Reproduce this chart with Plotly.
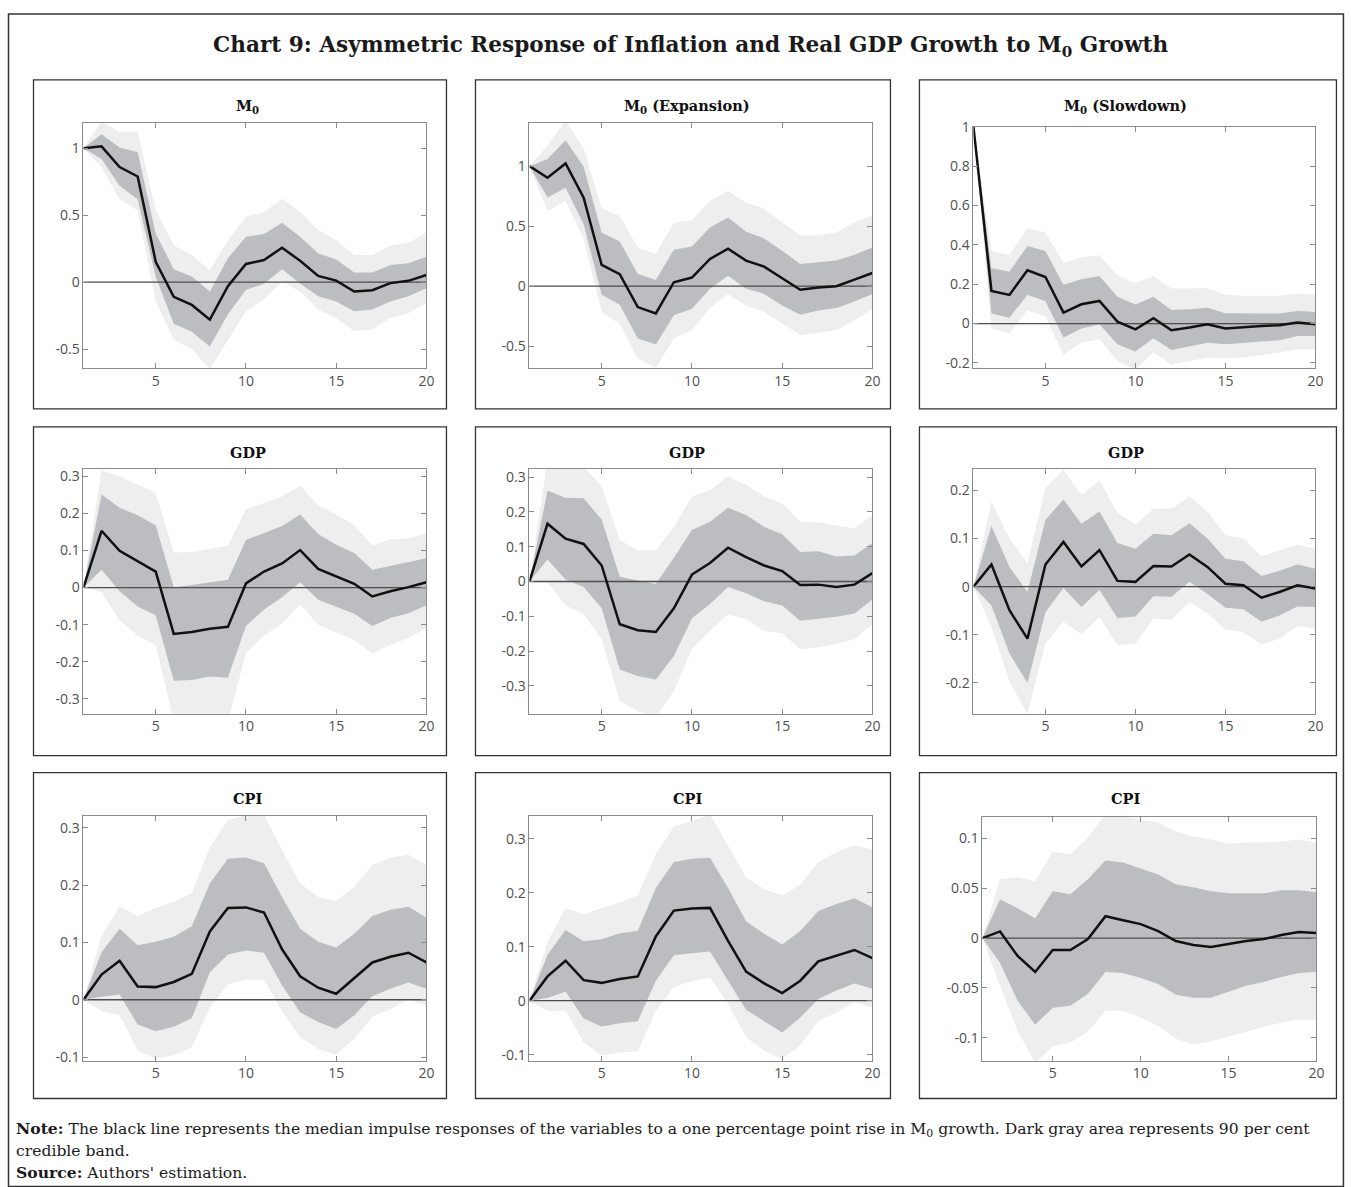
import plotly.graph_objects as go

W, H = 1351, 1187

horizon = list(range(1, 21))

# ---------------- data ----------------
# Panel 1: M0
p1_med = [1.0, 1.015, 0.86, 0.79, 0.153, -0.11, -0.17, -0.28, -0.03, 0.136, 0.166, 0.257, 0.16, 0.047, 0.012, -0.07, -0.06, -0.007, 0.01, 0.054]
p1_dhi = [1.0, 1.106, 1.007, 0.97, 0.364, 0.097, 0.042, -0.07, 0.178, 0.34, 0.36, 0.445, 0.34, 0.215, 0.17, 0.072, 0.072, 0.129, 0.141, 0.19]
p1_dlo = [1.0, 0.92, 0.72, 0.62, 0.04, -0.31, -0.37, -0.48, -0.24, -0.057, -0.012, 0.097, -0.01, -0.106, -0.144, -0.218, -0.205, -0.144, -0.106, -0.045]
p1_lhi = [1.0, 1.20, 1.124, 1.124, 0.537, 0.277, 0.203, 0.09, 0.314, 0.488, 0.525, 0.624, 0.525, 0.389, 0.314, 0.203, 0.203, 0.27, 0.297, 0.371]
p1_llo = [1.0, 0.86, 0.62, 0.537, -0.144, -0.43, -0.50, -0.65, -0.43, -0.218, -0.13, 0.005, -0.07, -0.205, -0.267, -0.366, -0.354, -0.267, -0.23, -0.156]

# Panel 2: M0 (Expansion)
p2_med = [1.0, 0.903, 1.022, 0.738, 0.177, 0.10, -0.174, -0.227, 0.033, 0.072, 0.227, 0.312, 0.213, 0.163, 0.066, -0.03, -0.011, 0.0, 0.055, 0.11]
p2_dhi = [1.0, 1.06, 1.215, 0.994, 0.447, 0.373, 0.102, 0.052, 0.304, 0.331, 0.489, 0.572, 0.453, 0.398, 0.296, 0.185, 0.199, 0.213, 0.262, 0.323]
p2_dlo = [1.0, 0.738, 0.82, 0.517, -0.072, -0.155, -0.436, -0.486, -0.243, -0.188, -0.022, 0.088, -0.022, -0.064, -0.16, -0.238, -0.202, -0.182, -0.127, -0.064]
p2_lhi = [1.0, 1.171, 1.38, 1.152, 0.646, 0.586, 0.323, 0.268, 0.53, 0.552, 0.71, 0.793, 0.696, 0.646, 0.53, 0.425, 0.425, 0.447, 0.53, 0.586]
p2_llo = [1.0, 0.627, 0.71, 0.392, -0.215, -0.312, -0.602, -0.68, -0.436, -0.367, -0.182, -0.064, -0.16, -0.215, -0.312, -0.409, -0.387, -0.367, -0.285, -0.188]

# Panel 3: M0 (Slowdown)
p3_med = [1.0, 0.166, 0.146, 0.271, 0.237, 0.056, 0.098, 0.115, 0.01, -0.029, 0.027, -0.034, -0.02, -0.003, -0.025, -0.017, -0.012, -0.008, 0.005, -0.003]
p3_dhi = [1.0, 0.281, 0.264, 0.395, 0.369, 0.197, 0.225, 0.242, 0.137, 0.097, 0.137, 0.069, 0.073, 0.081, 0.053, 0.053, 0.053, 0.051, 0.064, 0.059]
p3_dlo = [1.0, 0.051, 0.03, 0.146, 0.114, -0.071, -0.025, -0.003, -0.105, -0.142, -0.075, -0.134, -0.117, -0.097, -0.105, -0.097, -0.092, -0.085, -0.063, -0.063]
p3_lhi = [1.0, 0.369, 0.349, 0.485, 0.463, 0.307, 0.339, 0.347, 0.246, 0.205, 0.242, 0.178, 0.178, 0.181, 0.146, 0.141, 0.141, 0.141, 0.153, 0.146]
p3_llo = [1.0, -0.025, -0.049, 0.068, 0.034, -0.159, -0.097, -0.08, -0.19, -0.235, -0.147, -0.208, -0.19, -0.173, -0.178, -0.173, -0.161, -0.147, -0.13, -0.13]

# Panel 4: GDP (M0)
p4_med = [0.0, 0.153, 0.099, 0.072, 0.043, -0.125, -0.12, -0.111, -0.106, 0.011, 0.043, 0.065, 0.101, 0.05, 0.03, 0.01, -0.024, -0.01, 0.001, 0.014]
p4_dhi = [0.0, 0.251, 0.215, 0.195, 0.168, 0.001, 0.007, 0.013, 0.021, 0.128, 0.146, 0.166, 0.197, 0.144, 0.115, 0.093, 0.048, 0.059, 0.07, 0.079]
p4_dlo = [0.0, 0.048, -0.01, -0.051, -0.075, -0.251, -0.249, -0.24, -0.243, -0.104, -0.059, -0.026, 0.014, -0.033, -0.053, -0.071, -0.104, -0.082, -0.069, -0.048]
p4_lhi = [0.0, 0.316, 0.3, 0.278, 0.255, 0.095, 0.096, 0.104, 0.113, 0.211, 0.227, 0.245, 0.275, 0.222, 0.197, 0.168, 0.113, 0.13, 0.132, 0.146]
p4_llo = [0.0, -0.0125, -0.088, -0.129, -0.155, -0.36, -0.36, -0.36, -0.36, -0.178, -0.129, -0.097, -0.046, -0.1, -0.12, -0.142, -0.178, -0.155, -0.136, -0.109]

# Panel 5: GDP (Expansion)
p5_med = [0.0, 0.166, 0.123, 0.108, 0.046, -0.123, -0.14, -0.145, -0.077, 0.02, 0.053, 0.097, 0.07, 0.046, 0.03, -0.01, -0.009, -0.016, -0.009, 0.024]
p5_dhi = [0.0, 0.261, 0.241, 0.239, 0.178, 0.014, 0.003, -0.007, 0.068, 0.148, 0.172, 0.212, 0.191, 0.157, 0.136, 0.085, 0.087, 0.072, 0.075, 0.111]
p5_dlo = [0.0, 0.063, 0.006, -0.016, -0.077, -0.253, -0.272, -0.282, -0.214, -0.106, -0.065, -0.016, -0.034, -0.057, -0.069, -0.113, -0.108, -0.101, -0.092, -0.052]
p5_lhi = [0.0, 0.35, 0.345, 0.33, 0.273, 0.119, 0.089, 0.09, 0.157, 0.244, 0.263, 0.302, 0.278, 0.244, 0.225, 0.172, 0.17, 0.162, 0.152, 0.191]
p5_llo = [0.0, -0.002, -0.069, -0.094, -0.166, -0.344, -0.373, -0.39, -0.315, -0.193, -0.142, -0.094, -0.108, -0.142, -0.149, -0.195, -0.19, -0.18, -0.166, -0.123]

# Panel 6: GDP (Slowdown)
p6_med = [0.0, 0.046, -0.049, -0.108, 0.046, 0.093, 0.042, 0.076, 0.012, 0.01, 0.043, 0.042, 0.067, 0.041, 0.006, 0.003, -0.023, -0.011, 0.003, -0.004]
p6_dhi = [0.0, 0.126, 0.041, -0.011, 0.139, 0.181, 0.131, 0.156, 0.091, 0.079, 0.11, 0.107, 0.132, 0.1, 0.058, 0.053, 0.022, 0.033, 0.046, 0.037]
p6_dlo = [0.0, -0.039, -0.139, -0.2, -0.053, -0.003, -0.042, -0.007, -0.065, -0.062, -0.02, -0.021, 0.01, -0.015, -0.044, -0.047, -0.073, -0.06, -0.041, -0.042]
p6_lhi = [0.0, 0.177, 0.1, 0.049, 0.205, 0.243, 0.19, 0.221, 0.154, 0.129, 0.162, 0.162, 0.188, 0.156, 0.107, 0.1, 0.063, 0.075, 0.087, 0.079]
p6_llo = [0.0, -0.084, -0.197, -0.265, -0.118, -0.073, -0.099, -0.063, -0.122, -0.118, -0.066, -0.069, -0.032, -0.056, -0.089, -0.094, -0.12, -0.108, -0.082, -0.087]

# Panel 7: CPI (M0)
p7_med = [0.0, 0.044, 0.068, 0.023, 0.022, 0.031, 0.045, 0.119, 0.16, 0.161, 0.152, 0.088, 0.041, 0.021, 0.0105, 0.037, 0.065, 0.075, 0.082, 0.065]
p7_dhi = [0.0, 0.083, 0.124, 0.095, 0.101, 0.11, 0.128, 0.203, 0.246, 0.248, 0.238, 0.179, 0.124, 0.101, 0.091, 0.115, 0.146, 0.157, 0.162, 0.143]
p7_dlo = [0.0, 0.005, 0.009, -0.043, -0.055, -0.047, -0.032, 0.048, 0.079, 0.086, 0.082, 0.025, -0.022, -0.039, -0.051, -0.027, 0.006, 0.019, 0.03, 0.019]
p7_lhi = [0.0, 0.112, 0.163, 0.146, 0.16, 0.171, 0.186, 0.266, 0.313, 0.322, 0.322, 0.261, 0.203, 0.179, 0.172, 0.197, 0.235, 0.248, 0.253, 0.235]
p7_llo = [0.0, -0.02, -0.027, -0.089, -0.103, -0.097, -0.083, -0.014, 0.027, 0.035, 0.035, -0.02, -0.065, -0.086, -0.096, -0.068, -0.03, -0.016, 0.0, -0.01]

# Panel 8: CPI (Expansion)
p8_med = [0.0, 0.045, 0.074, 0.038, 0.033, 0.04, 0.045, 0.119, 0.167, 0.171, 0.172, 0.111, 0.054, 0.032, 0.014, 0.037, 0.073, 0.084, 0.094, 0.079]
p8_dhi = [0.0, 0.085, 0.131, 0.11, 0.114, 0.125, 0.129, 0.209, 0.257, 0.263, 0.265, 0.209, 0.147, 0.124, 0.104, 0.129, 0.166, 0.179, 0.19, 0.173]
p8_dlo = [0.0, 0.005, 0.017, -0.033, -0.048, -0.042, -0.038, 0.037, 0.084, 0.088, 0.091, 0.037, -0.017, -0.038, -0.059, -0.031, 0.003, 0.019, 0.032, 0.022]
p8_lhi = [0.0, 0.109, 0.172, 0.16, 0.172, 0.182, 0.195, 0.272, 0.323, 0.333, 0.345, 0.286, 0.229, 0.207, 0.195, 0.215, 0.257, 0.275, 0.288, 0.28]
p8_llo = [0.0, -0.019, -0.019, -0.077, -0.102, -0.096, -0.094, -0.019, 0.026, 0.036, 0.043, -0.006, -0.068, -0.093, -0.108, -0.082, -0.038, -0.022, -0.003, -0.012]

# Panel 9: CPI (Slowdown)
p9_med = [0.0, 0.0067, -0.018, -0.034, -0.012, -0.012, -0.001, 0.022, 0.018, 0.014, 0.007, -0.003, -0.007, -0.009, -0.006, -0.003, -0.001, 0.003, 0.006, 0.005]
p9_dhi = [0.0, 0.039, 0.03, 0.02, 0.047, 0.044, 0.059, 0.078, 0.076, 0.07, 0.064, 0.054, 0.051, 0.047, 0.045, 0.045, 0.045, 0.048, 0.048, 0.046]
p9_dlo = [0.0, -0.025, -0.063, -0.087, -0.07, -0.068, -0.056, -0.034, -0.035, -0.04, -0.046, -0.057, -0.06, -0.06, -0.054, -0.048, -0.044, -0.039, -0.035, -0.034]
p9_lhi = [0.0, 0.059, 0.061, 0.057, 0.087, 0.084, 0.101, 0.125, 0.123, 0.119, 0.116, 0.107, 0.102, 0.099, 0.095, 0.096, 0.096, 0.097, 0.099, 0.096]
p9_llo = [0.0, -0.048, -0.093, -0.125, -0.109, -0.105, -0.094, -0.073, -0.073, -0.08, -0.088, -0.101, -0.107, -0.104, -0.099, -0.094, -0.089, -0.085, -0.082, -0.082]

panel_titles = ["M<sub>0</sub>", "M<sub>0</sub> (Expansion)", "M<sub>0</sub> (Slowdown)",
                "GDP", "GDP", "GDP", "CPI", "CPI", "CPI"]

x_ticks = [5, 10, 15, 20]
y_ticks = [
    [-0.5, 0, 0.5, 1],
    [-0.5, 0, 0.5, 1],
    [-0.2, 0, 0.2, 0.4, 0.6, 0.8, 1],
    [-0.3, -0.2, -0.1, 0, 0.1, 0.2, 0.3],
    [-0.3, -0.2, -0.1, 0, 0.1, 0.2, 0.3],
    [-0.2, -0.1, 0, 0.1, 0.2],
    [-0.1, 0, 0.1, 0.2, 0.3],
    [-0.1, 0, 0.1, 0.2, 0.3],
    [-0.1, -0.05, 0, 0.05, 0.1],
]

chart_title = "Chart 9: Asymmetric Response of Inflation and Real GDP Growth to M<sub>0</sub> Growth"
note_lines = [
    "<b>Note:</b> The black line represents the median impulse responses of the variables to a one percentage point rise in M<sub>0</sub> growth. Dark gray area represents 90 per cent",
    "credible band.",
    "<b>Source:</b> Authors' estimation.",
]

panels = [
    (p1_med, p1_dlo, p1_dhi, p1_llo, p1_lhi),
    (p2_med, p2_dlo, p2_dhi, p2_llo, p2_lhi),
    (p3_med, p3_dlo, p3_dhi, p3_llo, p3_lhi),
    (p4_med, p4_dlo, p4_dhi, p4_llo, p4_lhi),
    (p5_med, p5_dlo, p5_dhi, p5_llo, p5_lhi),
    (p6_med, p6_dlo, p6_dhi, p6_llo, p6_lhi),
    (p7_med, p7_dlo, p7_dhi, p7_llo, p7_lhi),
    (p8_med, p8_dlo, p8_dhi, p8_llo, p8_lhi),
    (p9_med, p9_dlo, p9_dhi, p9_llo, p9_lhi),
]

# ---------------- layout geometry (target pixels in the picture) ----------------
# calibration of paper px -> photographed px
def fx(px):
    px2 = px + 3.0 + 2.0 * px / W
    return ((px2 - 2.5) / 0.9956) / W


def fy(py):
    py2 = py - 2.5 * py / H
    return 1 - ((py2 - 9.0) / 0.9857) / H


plot_px = [
    (83, 426, 122, 367), (529, 872, 122, 367), (973, 1315, 126, 367),
    (83, 426, 468, 713), (529, 872, 468, 713), (973, 1315, 468, 713),
    (83, 426, 815, 1060), (529, 872, 815, 1060), (982, 1316, 816, 1060),
]
y_ranges = [
    [-0.64, 1.19], [-0.68, 1.36], [-0.225, 1.0],
    [-0.34, 0.32], [-0.38, 0.324], [-0.264, 0.245],
    [-0.106, 0.321], [-0.111, 0.343], [-0.123, 0.122],
]
title_pos = [(247, 106), (687, 106), (1125, 106),
             (248, 452), (687, 452), (1126, 452),
             (247, 798), (687, 798), (1125, 798)]
box_cols = [(33, 446), (475, 890), (919, 1336)]
box_rows = [(79, 408), (426, 755), (772, 1098)]

LIGHT = "#eeeeee"
DARK = "#bcbdc0"
AXIS_C = "#8a8a8a"
TICK_FONT = dict(family="Open Sans", size=14, color="#505050")
SERIF = "DejaVu Serif"

fig = go.Figure()
layout_axes = {}
annotations = []
shapes = []

for i, (med, dlo, dhi, llo, lhi) in enumerate(panels):
    n = i + 1
    xa = "x" if n == 1 else f"x{n}"
    ya = "y" if n == 1 else f"y{n}"
    xs_poly = horizon + horizon[::-1]
    fig.add_trace(go.Scatter(x=xs_poly, y=lhi + llo[::-1], fill="toself", fillcolor=LIGHT,
                             line=dict(width=0), mode="lines", hoverinfo="skip",
                             showlegend=False, xaxis=xa, yaxis=ya))
    fig.add_trace(go.Scatter(x=xs_poly, y=dhi + dlo[::-1], fill="toself", fillcolor=DARK,
                             line=dict(width=0), mode="lines", hoverinfo="skip",
                             showlegend=False, xaxis=xa, yaxis=ya))
    fig.add_trace(go.Scatter(x=[horizon[0], horizon[-1]], y=[0, 0], mode="lines",
                             line=dict(color="#4d4d4d", width=1.3), hoverinfo="skip",
                             showlegend=False, xaxis=xa, yaxis=ya))
    fig.add_trace(go.Scatter(x=horizon, y=med, mode="lines",
                             line=dict(color="#111111", width=2.5),
                             showlegend=False, xaxis=xa, yaxis=ya))

    x0, x1, y0, y1 = plot_px[i]
    common = dict(showline=True, linecolor=AXIS_C, linewidth=1, mirror="ticks",
                  ticks="inside", ticklen=5, tickcolor=AXIS_C, tickwidth=1,
                  showgrid=False, zeroline=False, tickfont=TICK_FONT)
    layout_axes["xaxis" if n == 1 else f"xaxis{n}"] = dict(
        domain=[fx(x0), fx(x1)], range=[1, 20], anchor=ya,
        tickvals=x_ticks, ticktext=[str(t) for t in x_ticks], **common)
    layout_axes["yaxis" if n == 1 else f"yaxis{n}"] = dict(
        domain=[fy(y1), fy(y0)], range=y_ranges[i], anchor=xa,
        tickvals=y_ticks[i], ticktext=[("%g" % t) for t in y_ticks[i]], **common)

    tx, ty = title_pos[i]
    annotations.append(dict(text="<b>" + panel_titles[i] + "</b>", x=fx(tx), y=fy(ty),
                            xref="paper", yref="paper", showarrow=False,
                            xanchor="center", yanchor="middle",
                            font=dict(family=SERIF, size=14.5, color="#111")))

for (r0, r1) in box_rows:
    for (c0, c1) in box_cols:
        shapes.append(dict(type="rect", xref="paper", yref="paper",
                           x0=fx(c0), x1=fx(c1), y0=fy(r1), y1=fy(r0),
                           line=dict(color="#333333", width=1.3), fillcolor="rgba(0,0,0,0)",
                           layer="above"))

# outer frame
shapes.append(dict(type="rect", xref="paper", yref="paper",
                   x0=fx(8), x1=fx(1343), y0=fy(1186), y1=fy(13),
                   line=dict(color="#333333", width=1.5), fillcolor="rgba(0,0,0,0)"))

annotations.append(dict(text="<b>" + chart_title + "</b>", x=fx(691), y=fy(46),
                        xref="paper", yref="paper", showarrow=False,
                        xanchor="center", yanchor="middle",
                        font=dict(family=SERIF, size=21.6, color="#1a1a1a")))

for k, (line, yy) in enumerate(zip(note_lines, [1129, 1151, 1172])):
    annotations.append(dict(text=line, x=fx(14), y=fy(yy), xref="paper", yref="paper",
                            showarrow=False, xanchor="left", yanchor="middle",
                            font=dict(family=SERIF, size=15.6, color="#1a1a1a")))

fig.update_layout(width=W, height=H, margin=dict(l=0, r=0, t=0, b=0),
                  paper_bgcolor="white", plot_bgcolor="white",
                  showlegend=False, annotations=annotations, shapes=shapes,
                  **layout_axes)

fig.write_html("out.html")
